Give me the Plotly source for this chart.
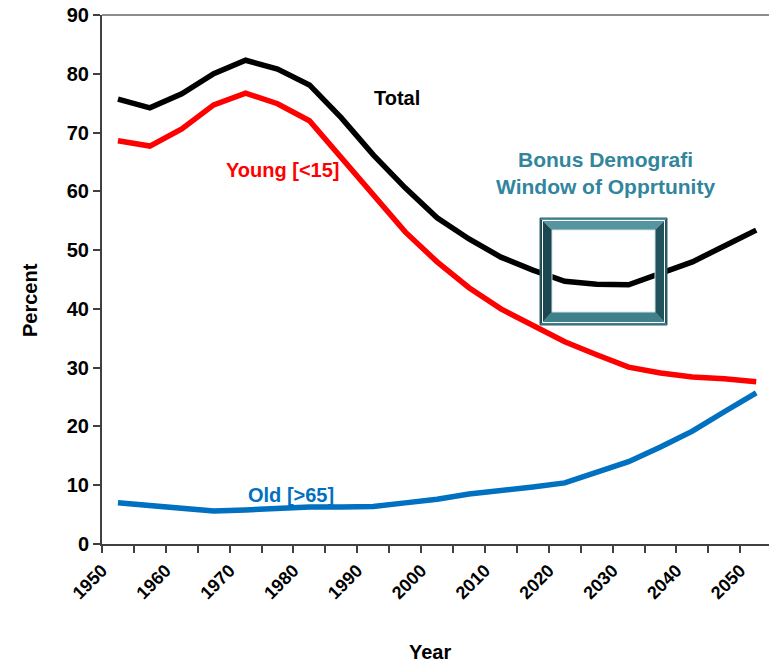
import plotly.graph_objects as go

years = [1952.5, 1957.5, 1962.5, 1967.5, 1972.5, 1977.5, 1982.5, 1987.5, 1992.5, 1997.5,
         2002.5, 2007.5, 2012.5, 2017.5, 2022.5, 2027.5, 2032.5, 2037.5, 2042.5, 2047.5, 2052.5]
total = [75.7, 74.2, 76.6, 80.0, 82.3, 80.8, 78.1, 72.5, 66.2, 60.6,
         55.5, 51.9, 48.8, 46.6, 44.7, 44.2, 44.1, 46.1, 48.0, 50.7, 53.4]
young = [68.6, 67.7, 70.6, 74.7, 76.7, 74.9, 72.0, 65.7, 59.2, 53.1,
         48.0, 43.6, 40.0, 37.1, 34.4, 32.2, 30.1, 29.1, 28.4, 28.1, 27.6]
old = [7.0, 6.5, 6.0, 5.6, 5.8, 6.1, 6.3, 6.3, 6.4, 7.0,
       7.6, 8.5, 9.0, 9.7, 10.4, 12.2, 14.0, 16.5, 19.2, 22.5, 25.7]

x_ticks = list(range(1950, 2051, 10))
y_ticks = list(range(0, 91, 10))

W, H = 769, 663
# plot area in pixels
L, T, B, R = 102, 15, 544, 769
X0, X1 = 1950, 2054.5
PXY = (R - L) / (X1 - X0)
PYU = (B - T) / 90


def px2x(p):
    return X0 + (p - L) / PXY


def px2y(p):
    return (B - p) / PYU


def poly(pts):
    return "M " + " L ".join(f"{px2x(a)},{px2y(b)}" for a, b in pts) + " Z"


fig = go.Figure()
fig.add_trace(go.Scatter(x=years, y=total, mode="lines", line=dict(color="black", width=5.5)))
fig.add_trace(go.Scatter(x=years, y=young, mode="lines", line=dict(color="#ff0000", width=5.5)))
fig.add_trace(go.Scatter(x=years, y=old, mode="lines", line=dict(color="#0070c0", width=5.5)))

# beveled frame ("window of opportunity")
ox0, oy0, ox1, oy1 = 540, 218, 667, 325
ix0, iy0, ix1, iy1 = 552, 230, 655, 312
shapes = [
    dict(type="path", path=poly([(ox0, oy0), (ox1, oy0), (ix1, iy0), (ix0, iy0)]),
         fillcolor="#55959f", line=dict(width=0)),
    dict(type="path", path=poly([(ox0, oy1), (ox1, oy1), (ix1, iy1), (ix0, iy1)]),
         fillcolor="#3f808b", line=dict(width=0)),
    dict(type="path", path=poly([(ox0, oy0), (ix0, iy0), (ix0, iy1), (ox0, oy1)]),
         fillcolor="#1d4750", line=dict(width=0)),
    dict(type="path", path=poly([(ox1, oy0), (ix1, iy0), (ix1, iy1), (ox1, oy1)]),
         fillcolor="#22525b", line=dict(width=0)),
    dict(type="rect", x0=px2x(ox0), x1=px2x(ox1), y0=px2y(oy0), y1=px2y(oy1),
         line=dict(color="#2c6470", width=1)),
    dict(type="rect", x0=px2x(ox0 + 2.5), x1=px2x(ox1 - 2.5), y0=px2y(oy0 + 2.5), y1=px2y(oy1 - 2.5),
         line=dict(color="white", width=1)),
    dict(type="rect", x0=px2x(ix0), x1=px2x(ix1), y0=px2y(iy0), y1=px2y(iy1),
         line=dict(color="#cfe3e6", width=1)),
    dict(type="line", xref="paper", yref="paper", x0=0, x1=1, y0=1, y1=1,
         line=dict(color="#8c8c8c", width=2)),
]

bold = dict(family="Liberation Sans, Arial", weight="bold", color="black")
fig.update_layout(
    width=W, height=H,
    margin=dict(l=L, r=W - R, t=T, b=H - B, autoexpand=False),
    paper_bgcolor="white", plot_bgcolor="white",
    showlegend=False,
    shapes=shapes,
    annotations=[
        dict(x=px2x(397), y=px2y(98), text="Total", showarrow=False,
             font=dict(bold, size=20, color="black")),
        dict(x=px2x(283), y=px2y(170), text="Young [<15]", showarrow=False,
             font=dict(bold, size=20, color="#ff0000")),
        dict(x=px2x(291), y=px2y(495), text="Old [>65]", showarrow=False,
             font=dict(bold, size=20, color="#0070c0")),
        dict(x=px2x(605), y=px2y(173), text="Bonus Demografi<br>Window of Opprtunity", showarrow=False,
             font=dict(bold, size=21, color="#31859c")),
        dict(x=(430 - L) / (R - L), y=(B - 652) / (B - T), xref="paper", yref="paper",
             yanchor="middle", text="Year", showarrow=False, font=dict(bold, size=20)),
        dict(x=(30 - L) / (R - L), y=(B - 300) / (B - T), xref="paper", yref="paper",
             xanchor="center", yanchor="middle", text="Percent", textangle=-90,
             showarrow=False, font=dict(bold, size=20)),
    ],
)
fig.update_xaxes(range=[X0, X1], tickvals=x_ticks, tickangle=-45, ticks="outside", ticklen=7,
                 tickcolor="#404040", tickwidth=1.5, showline=True, linecolor="#404040", linewidth=2,
                 showgrid=False, zeroline=False, tickfont=dict(bold, size=18), automargin=False,
                 ticklabeloverflow="allow",
                 minor=dict(tickvals=list(range(1955, 2055, 10)), ticks="outside", ticklen=7,
                            tickcolor="#404040", tickwidth=1.5))
fig.update_yaxes(range=[0, 90], tickvals=y_ticks, ticks="outside", ticklen=7, tickcolor="#404040",
                 tickwidth=1.5, showline=True, linecolor="#404040", linewidth=2, showgrid=False,
                 zeroline=False, tickfont=dict(bold, size=20), automargin=False,
                 ticklabeloverflow="allow")

# drop the browser's default 8px page margin so the figure fills the window
fig.write_html("out.html", config={"displayModeBar": False},
               post_script="document.body.style.margin = '0';")
